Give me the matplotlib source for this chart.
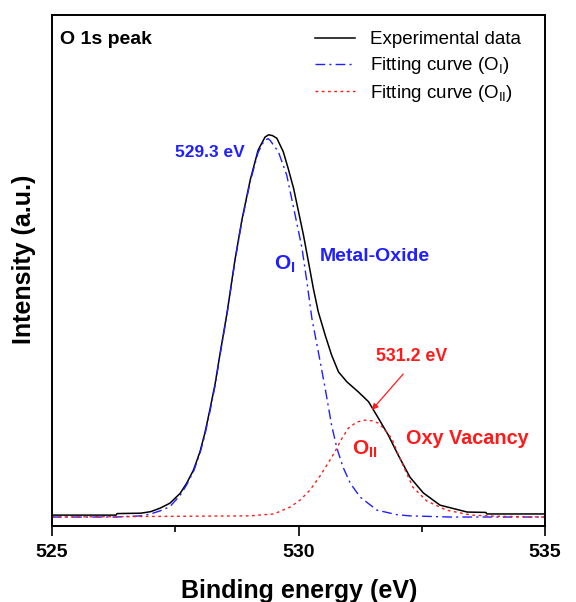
import matplotlib
matplotlib.use("Agg")
import matplotlib.pyplot as plt
from matplotlib.ticker import MultipleLocator

plt.rcParams["font.family"] = ["Liberation Sans", "DejaVu Sans"]
plt.rcParams["mathtext.fontset"] = "custom"
plt.rcParams["mathtext.rm"] = "Liberation Sans"
plt.rcParams["mathtext.bf"] = "Liberation Sans:bold"

BLUE = "#1f1fff"
RED = "#ff1a1a"

# binding energy (eV) / intensity (a.u.)
exp_e = [525.0, 526.3, 526.32, 526.8, 527.0, 527.19, 527.39, 527.6, 527.73, 527.87,
         528.0, 528.1, 528.2, 528.31, 528.41, 528.55, 528.71, 528.85, 529.02, 529.18,
         529.32, 529.39, 529.47, 529.56, 529.69, 529.79, 529.9, 530.0, 530.1, 530.2,
         530.3, 530.4, 530.54, 530.67, 530.81, 530.98, 531.21, 531.42, 531.62, 531.82,
         532.02, 532.26, 532.53, 532.87, 533.42, 533.8, 533.82, 535.0]
exp_i = [5, 5, 9, 10, 14, 23, 36, 62, 88, 123,
         170, 219, 279, 349, 428, 533, 671, 775, 880, 958,
         992, 998, 996, 989, 954, 910, 858, 797, 736, 667,
         597, 536, 475, 423, 379, 353, 327, 301, 258, 214,
         162, 104, 63, 31, 13, 12, 8, 8]

o1_e = [525.0, 526.3, 526.8, 527.0, 527.19, 527.39, 527.6, 527.73, 527.87, 528.0,
        528.1, 528.2, 528.31, 528.41, 528.55, 528.71, 528.85, 529.02, 529.18, 529.3,
        529.38, 529.42, 529.59, 529.76, 529.93, 530.07, 530.17, 530.27, 530.4, 530.54,
        530.67, 530.78, 530.9, 531.05, 531.25, 531.59, 532.0, 532.26, 533.07, 535.0]
o1_i = [0, 0, 3, 8, 16, 27, 57, 84, 119, 166,
        214, 274, 345, 425, 530, 668, 772, 876, 952, 982,
        988, 984, 954, 893, 789, 702, 614, 519, 432, 336,
        240, 179, 131, 88, 52, 18, 6, 3, 0, 0]

o2_e = [525.0, 529.0, 529.5, 529.83, 530.03, 530.23, 530.44, 530.64, 530.74, 530.87,
        531.01, 531.18, 531.35, 531.5, 531.62, 531.75, 531.89, 532.05, 532.32, 532.6,
        533.0, 533.5, 534.0, 535.0]
o2_i = [0, 3, 8, 26, 44, 70, 108, 149, 171, 203,
        232, 248, 253, 251, 245, 228, 205, 155, 78, 42,
        18, 5, 2, 0]

fig = plt.figure(figsize=(5.76, 6.02), dpi=100)
ax = fig.add_axes([0.0903, 0.1262, 0.856, 0.849])

ax.plot(exp_e, exp_i, color="black", lw=1.1, label="Experimental data")
ax.plot(o1_e, o1_i, color=BLUE, lw=1.0, ls=(0, (7, 3, 1.5, 3)),
        label=r"Fitting curve (O$_\mathrm{I}$)")
ax.plot(o2_e, o2_i, color=RED, lw=1.0, ls=(0, (2, 2.5)),
        label=r"Fitting curve (O$_\mathrm{II}$)")

ax.set_xlim(525, 535)
ax.set_ylim(-23.5, 1311)
ax.xaxis.set_major_locator(MultipleLocator(5))
ax.xaxis.set_minor_locator(MultipleLocator(2.5))
ax.set_yticks([])
ax.tick_params(axis="x", which="major", length=7, width=1.2, direction="out", pad=6)
ax.tick_params(axis="x", which="minor", length=4, width=1.2, direction="out")
for lab in ax.get_xticklabels():
    lab.set_fontsize(14)
    lab.set_fontweight("bold")
for sp in ax.spines.values():
    sp.set_linewidth(1.4)

fig.text(0.52, 0.0066, "Binding energy (eV)", ha="center", va="baseline",
         fontsize=18, fontweight="bold")
fig.text(0.042, 0.57, "Intensity (a.u.)", ha="center", va="center",
         rotation=90, fontsize=18, fontweight="bold")

ax.text(0.016, 0.951, "O 1s peak", transform=ax.transAxes, ha="left", va="center",
        fontsize=14, fontweight="bold")

leg = ax.legend(loc="upper left", bbox_to_anchor=(0.533, 0.968), frameon=False,
                fontsize=13.5, handlelength=2.15, handletextpad=0.8, labelspacing=0.36,
                borderaxespad=0, borderpad=0)

ax.text(528.2, 953, "529.3 eV", color=BLUE, ha="center", va="center",
        fontsize=12.5, fontweight="bold")
ax.text(529.73, 660, r"$\mathbf{O_I}$", color=BLUE, ha="center", va="center",
        fontsize=15)
ax.text(530.44, 679, "Metal-Oxide", color=BLUE, ha="left", va="center",
        fontsize=14, fontweight="bold")

ax.text(531.57, 418, "531.2 eV", color=RED, ha="left", va="center",
        fontsize=12.8, fontweight="bold")
ax.annotate("", xy=(531.45, 274), xytext=(532.16, 379),
            arrowprops=dict(arrowstyle="-|>", color=RED, lw=0.9,
                            mutation_scale=9))
ax.text(531.35, 178, r"$\mathbf{O_{II}}$", color=RED, ha="center", va="center",
        fontsize=15)
ax.text(532.18, 206, "Oxy Vacancy", color=RED, ha="left", va="center",
        fontsize=14.3, fontweight="bold")

fig.savefig("out.png", dpi=100)
